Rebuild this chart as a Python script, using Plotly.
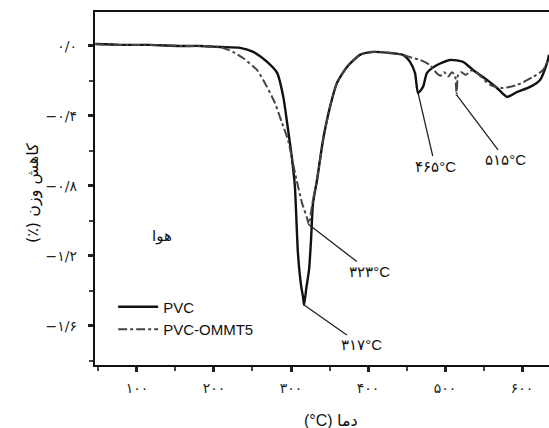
import plotly.graph_objects as go

# Thermogravimetric derivative curves (weight-loss rate) in air
temp_pvc = [46, 78, 117, 156, 182, 208, 234, 251, 269, 282, 290, 295, 301, 305,
            309, 313, 315.6, 317, 320, 323.4, 326, 328.6, 333.8, 341.6, 350.6,
            359.7, 372.7, 389.6, 406.5, 428.6, 445.5, 454.5, 461, 465, 471.4,
            476.6, 489.6, 506.5, 523.4, 536.4, 554.5, 567.5, 580.5, 593.5,
            610.4, 623.4, 632.5, 635]
loss_pvc = [0.011, 0.006, 0.006, 0.0, 0.0, -0.006, -0.011, -0.034, -0.091, -0.154,
            -0.291, -0.44, -0.634, -0.8, -1.183, -1.366, -1.434, -1.48, -1.38,
            -1.28, -1.109, -0.897, -0.766, -0.537, -0.349, -0.211, -0.12, -0.051,
            -0.034, -0.04, -0.051, -0.091, -0.154, -0.269, -0.234, -0.154, -0.109,
            -0.08, -0.091, -0.137, -0.194, -0.24, -0.291, -0.263, -0.234, -0.194,
            -0.097, -0.05]

temp_ommt = [46, 78, 117, 156, 182, 208, 224.7, 237.7, 255.8, 268.8, 279.2, 288.3,
             296.1, 305.2, 314.3, 320.8, 323, 326, 328.6, 333.8, 341.6, 350.6,
             359.7, 372.7, 389.6, 406.5, 428.6, 445.5, 455, 467.5, 480.5, 488,
             494, 499, 504, 509, 513, 515, 517, 521, 527, 534, 541.6, 558.4,
             575.3, 593.5, 614.3, 627.3, 635]
loss_ommt = [0.011, 0.006, 0.006, 0.0, 0.0, -0.006, -0.034, -0.069, -0.137, -0.234,
             -0.326, -0.44, -0.537, -0.726, -0.897, -0.983, -1.02, -0.95, -0.88,
             -0.766, -0.537, -0.349, -0.211, -0.12, -0.051, -0.034, -0.04, -0.051,
             -0.065, -0.08, -0.109, -0.15, -0.17, -0.15, -0.175, -0.15, -0.17,
             -0.28, -0.165, -0.15, -0.165, -0.14, -0.154, -0.223, -0.24, -0.223,
             -0.177, -0.137, -0.07]

# Labelled peak temperatures and the curve values at those peaks
peak_temps = [317, 323, 465, 515]
peak_vals = [-1.48, -1.02, -0.269, -0.28]
peak_text = ["۳۱۷°C", "۳۲۳°C", "۴۶۵°C", "۵۱۵°C"]

x_ticks = [100, 200, 300, 400, 500, 600]
x_tick_text = ["۱۰۰", "۲۰۰", "۳۰۰", "۴۰۰", "۵۰۰", "۶۰۰"]
x_minor = [50, 150, 250, 350, 450, 550]
y_ticks = [0.0, -0.4, -0.8, -1.2, -1.6]
y_tick_text = ["۰/۰", "−۰/۴", "−۰/۸", "−۱/۲", "−۱/۶"]
y_minor = [-0.2, -0.6, -1.0, -1.4, -1.8]

FA = "DejaVu Sans"
MIX = "Liberation Sans, DejaVu Sans, sans-serif"
LAT = "Liberation Sans, Arial, sans-serif"

fig = go.Figure()
fig.add_trace(go.Scatter(x=temp_pvc, y=loss_pvc, mode="lines", name="PVC",
                         line=dict(color="#111111", width=2.4, shape="spline",
                                   smoothing=0.6)))
fig.add_trace(go.Scatter(x=temp_ommt, y=loss_ommt, mode="lines", name="PVC-OMMT5",
                         line=dict(color="#444444", width=2, dash="dashdot",
                                   shape="spline", smoothing=0.6)))

# Leader offsets (px) from each peak to the centre of its label
offsets = [(57, 40), (61, 47), (17, 73), (49, 65)]
for t, v, txt, (ax, ay) in zip(peak_temps, peak_vals, peak_text, offsets):
    fig.add_annotation(x=t, y=v, text=txt, showarrow=True, arrowhead=0,
                       arrowwidth=1.3, arrowcolor="#222222", ax=ax, ay=ay,
                       font=dict(family=MIX, size=15, color="#111111"))

fig.add_annotation(x=132.5, y=-1.086, text="هوا", showarrow=False,
                   font=dict(family=FA, size=15, color="#111111"))

fig.add_annotation(xref="paper", yref="paper", x=(331 - 95) / 454,
                   y=-(421 - 365) / 353, yanchor="middle", text="(°C) دما",
                   showarrow=False,
                   font=dict(family=MIX, size=16, color="#111111"))
fig.add_annotation(xref="paper", yref="paper", x=-(95 - 21) / 454,
                   y=(365 - 193) / 353, text="(٪) کاهش وزن", showarrow=False,
                   textangle=-90, font=dict(family=FA, size=16, color="#111111"))

fig.update_layout(
    width=549, height=428,
    margin=dict(l=95, r=0, t=12, b=63),
    paper_bgcolor="white", plot_bgcolor="white",
    showlegend=True,
    legend=dict(x=0.04, y=0.211, xanchor="left", yanchor="top", itemwidth=40,
                bgcolor="rgba(0,0,0,0)", font=dict(family=LAT, size=15,
                                                   color="#111111"),
                tracegroupgap=0),
    xaxis=dict(range=[45.5, 635], showgrid=False, zeroline=False,
               showline=True, linecolor="#111111", linewidth=2.2, mirror=True,
               tickmode="array", tickvals=x_ticks, ticktext=x_tick_text,
               ticks="outside", ticklen=5, tickwidth=2.5, tickcolor="#222222",
               ticklabelstandoff=4,
               tickfont=dict(family=FA, size=14, color="#222222"),
               minor=dict(tickvals=x_minor, ticks="outside", ticklen=4,
                          tickwidth=2, tickcolor="#444444")),
    yaxis=dict(range=[-1.823, 0.194], showgrid=False, zeroline=False,
               showline=True, linecolor="#111111", linewidth=2.2, mirror=False,
               tickmode="array", tickvals=y_ticks, ticktext=y_tick_text,
               ticks="outside", ticklen=5, tickwidth=2.5, tickcolor="#222222",
               ticklabelstandoff=8,
               tickfont=dict(family=FA, size=14, color="#222222"),
               minor=dict(tickvals=y_minor, ticks="outside", ticklen=4,
                          tickwidth=2, tickcolor="#444444")),
)

fig.write_html("out.html")
